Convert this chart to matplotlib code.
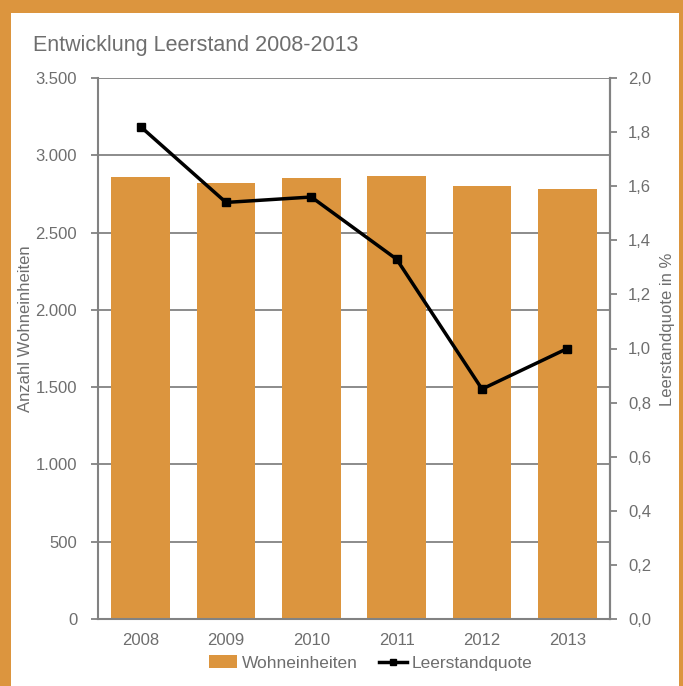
import matplotlib.pyplot as plt
from matplotlib.patches import Rectangle
from matplotlib.lines import Line2D
from matplotlib.ticker import FuncFormatter

plt.rcParams['font.family'] = ['Liberation Sans', 'DejaVu Sans']

years = ['2008', '2009', '2010', '2011', '2012', '2013']
wohneinheiten = [2860, 2820, 2850, 2865, 2800, 2780]
leerstandquote = [1.82, 1.54, 1.56, 1.33, 0.85, 1.00]

ORANGE = '#DC953E'
GREY = '#6E6E6E'
GRID = '#828282'

W, H = 683, 686
fig = plt.figure(figsize=(W / 100, H / 100), dpi=100)
fig.patch.set_facecolor(ORANGE)
# white panel inside the orange frame
fig.patches.append(Rectangle((11 / W, 0), (679 - 11) / W, (H - 13) / H,
                             transform=fig.transFigure, facecolor='white',
                             edgecolor='none', zorder=-10))

ax = fig.add_axes([98 / W, 1 - 619 / H, (610 - 98) / W, (619 - 78) / H])
ax.set_facecolor('none')
x = range(len(years))
ax.bar(x, wohneinheiten, width=0.69, color=ORANGE, zorder=2)
ax.set_xlim(-0.5, len(years) - 0.5)
ax.set_ylim(0, 3500)
ax.set_yticks(range(0, 3501, 500))
ax.yaxis.set_major_formatter(FuncFormatter(lambda v, p: f'{int(v):,}'.replace(',', '.')))
ax.grid(axis='y', color=GRID, linewidth=1.3, zorder=1)
ax.set_axisbelow(True)
ax.set_xticks(list(x))
ax.set_xticklabels(years)
for s in ['left', 'bottom', 'right']:
    ax.spines[s].set_color(GRID)
    ax.spines[s].set_linewidth(1.5)
ax.spines['top'].set_visible(False)
ax.tick_params(axis='y', colors=GRID, labelcolor=GREY, labelsize=12,
               length=5, width=1.3, pad=10)
ax.tick_params(axis='x', length=0, labelcolor=GREY, labelsize=12, pad=10)
ax.set_ylabel('Anzahl Wohneinheiten', color=GREY, fontsize=12)
ax.yaxis.set_label_coords((33 - 98) / (610 - 98), 0.537)

ax2 = ax.twinx()
ax2.plot(list(x), leerstandquote, color='black', linewidth=2.5,
         marker='s', markersize=6, zorder=3)
ax2.set_ylim(0, 2.0)
ax2.set_yticks([i / 10 for i in range(0, 21, 2)])
ax2.yaxis.set_major_formatter(FuncFormatter(lambda v, p: f'{v:.1f}'.replace('.', ',')))
for s in ['left', 'bottom', 'top']:
    ax2.spines[s].set_visible(False)
ax2.spines['right'].set_color(GRID)
ax2.spines['right'].set_linewidth(1.5)
ax2.tick_params(axis='y', colors=GRID, labelcolor=GREY, labelsize=12,
                length=5, width=1.3, pad=8)
ax2.set_ylabel('Leerstandquote in %', color=GREY, fontsize=12)
ax2.yaxis.set_label_coords((660 - 98) / (610 - 98), 0.535)

fig.text(33 / W, 1 - 45 / H, 'Entwicklung Leerstand 2008-2013', color=GREY,
         fontsize=15.5, va='center', ha='left')

handles = [Rectangle((0, 0), 1, 1, facecolor=ORANGE),
           Line2D([], [], color='black', linewidth=2.5, marker='s', markersize=4)]
fig.legend(handles, ['Wohneinheiten', 'Leerstandquote'], loc='center',
           bbox_to_anchor=(371 / W, 1 - 663 / H), ncol=2, frameon=False,
           fontsize=12.5, labelcolor=GREY, handlelength=1.6, handletextpad=0.3,
           columnspacing=1.2)

fig.savefig('out.png', dpi=100, facecolor=fig.get_facecolor())
